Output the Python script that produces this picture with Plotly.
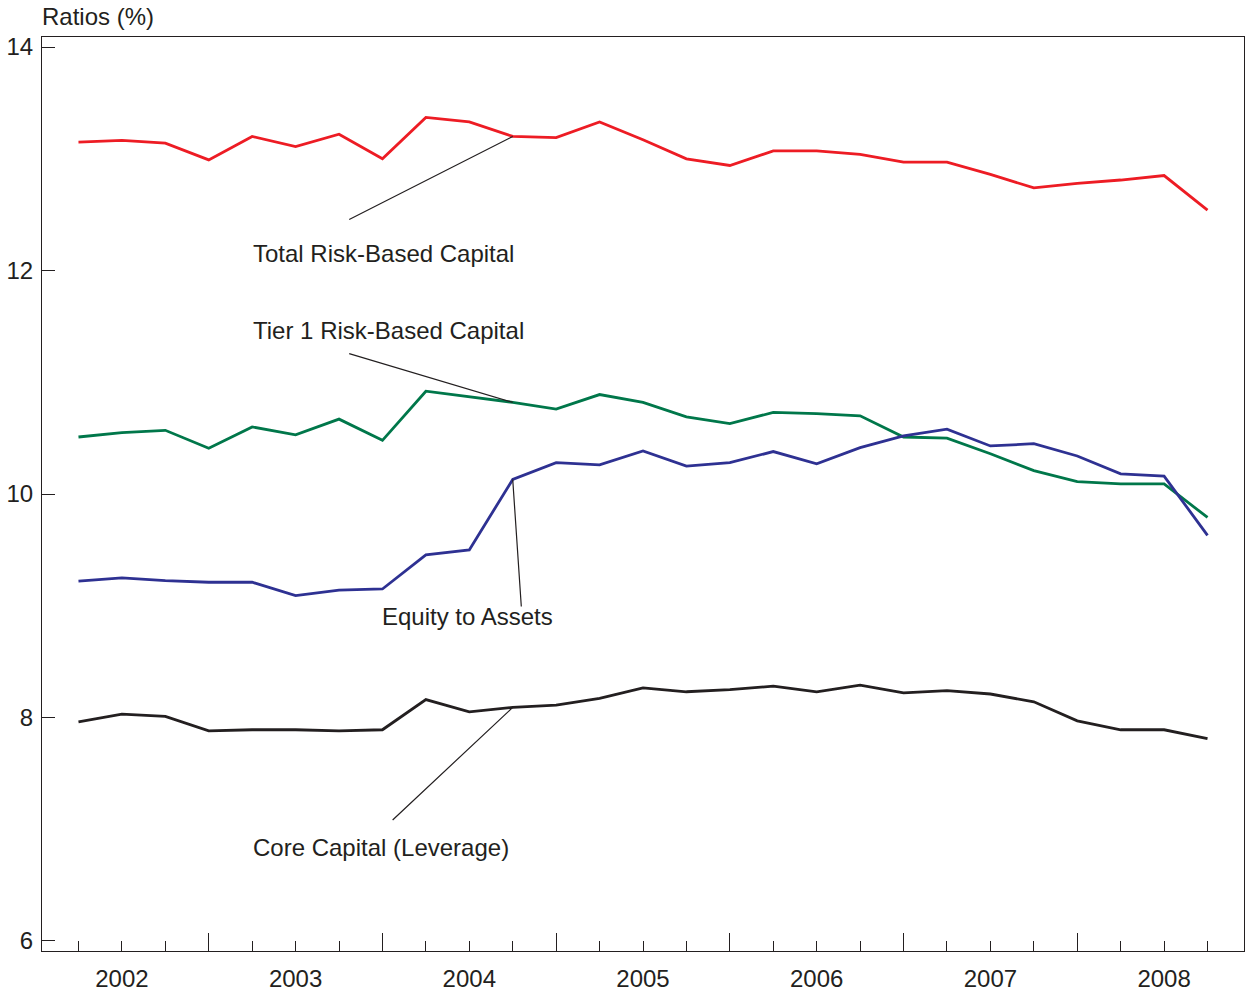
import plotly.graph_objects as go

# Quarter-end positions, 2002Q1 .. 2008Q3
quarters = [2002.25, 2002.5, 2002.75, 2003.0,
            2003.25, 2003.5, 2003.75, 2004.0,
            2004.25, 2004.5, 2004.75, 2005.0,
            2005.25, 2005.5, 2005.75, 2006.0,
            2006.25, 2006.5, 2006.75, 2007.0,
            2007.25, 2007.5, 2007.75, 2008.0,
            2008.25, 2008.5, 2008.75]

total_rbc = [13.15, 13.165, 13.14, 12.99, 13.20, 13.11, 13.22, 13.00, 13.37, 13.33,
             13.20, 13.19, 13.33, 13.17, 13.00, 12.94, 13.07, 13.07, 13.04, 12.97,
             12.97, 12.86, 12.74, 12.78, 12.81, 12.85, 12.54]
tier1_rbc = [10.51, 10.55, 10.57, 10.41, 10.60, 10.53, 10.67, 10.48, 10.92, 10.87,
             10.82, 10.76, 10.89, 10.82, 10.69, 10.63, 10.73, 10.72, 10.70, 10.51,
             10.50, 10.36, 10.21, 10.11, 10.09, 10.09, 9.79]
equity_assets = [9.22, 9.25, 9.225, 9.21, 9.21, 9.09, 9.14, 9.15, 9.455, 9.50,
                 10.13, 10.28, 10.26, 10.385, 10.25, 10.28, 10.38, 10.27, 10.415, 10.52,
                 10.58, 10.43, 10.45, 10.34, 10.18, 10.16, 9.63]
core_capital = [7.96, 8.03, 8.01, 7.88, 7.89, 7.89, 7.88, 7.89, 8.16, 8.05,
                8.09, 8.11, 8.17, 8.265, 8.23, 8.25, 8.28, 8.23, 8.29, 8.22,
                8.24, 8.21, 8.14, 7.97, 7.89, 7.89, 7.81]

year_labels = ["2002", "2003", "2004", "2005", "2006", "2007", "2008"]
year_centers = [2002.5, 2003.5, 2004.5, 2005.5, 2006.5, 2007.5, 2008.5]
year_bounds = [2003, 2004, 2005, 2006, 2007, 2008]
y_ticks = [6, 8, 10, 12, 14]

series_names = ["Total Risk-Based Capital", "Tier 1 Risk-Based Capital",
                "Equity to Assets", "Core Capital (Leverage)"]
series_values = [total_rbc, tier1_rbc, equity_assets, core_capital]
colors = ["#ed1c24", "#00774a", "#2e3192", "#231f20"]

# label placement (text anchor, leader-line tail); leaders point at 2004Q3
label_pos = [(2003.255, 12.15), (2003.255, 11.465), (2004.0, 8.90), (2003.255, 6.84)]
tail_pos = [(2003.80, 12.45), (2003.80, 11.26), (2004.80, 8.98), (2004.05, 7.07)]
point_idx = 10

ink = "#231f20"
font_family = "Liberation Sans, Arial, sans-serif"
fsize = 24

fig = go.Figure()
for name, vals, col in zip(series_names, series_values, colors):
    fig.add_trace(go.Scatter(x=quarters, y=vals, mode="lines", name=name,
                             line=dict(color=col, width=2.8), showlegend=False))
# dummy trace for the label axis
fig.add_trace(go.Scatter(x=[], y=[], xaxis="x2", showlegend=False))

annotations = []
for name, vals, (lx, ly), (tx, ty) in zip(series_names, series_values, label_pos, tail_pos):
    annotations.append(dict(x=quarters[point_idx], y=vals[point_idx], ax=tx, ay=ty,
                            xref="x", yref="y", axref="x", ayref="y", text="",
                            showarrow=True, arrowhead=0, arrowwidth=1.2, arrowcolor=ink))
    annotations.append(dict(x=lx, y=ly, xref="x", yref="y", text=name, showarrow=False,
                            xanchor="left", yanchor="middle", xshift=-2,
                            font=dict(size=fsize, color=ink, family=font_family)))
annotations.append(dict(x=0, y=1, xref="paper", yref="paper", text="Ratios (%)",
                        showarrow=False, xanchor="left", yanchor="bottom", xshift=-2, yshift=5,
                        font=dict(size=fsize, color=ink, family=font_family)))

fig.update_layout(
    width=1246, height=996,
    margin=dict(l=42, r=2, t=37, b=45),
    paper_bgcolor="white", plot_bgcolor="white",
    font=dict(family=font_family, size=fsize, color=ink),
    annotations=annotations,
    xaxis=dict(range=[2002.04, 2008.96], tickmode="array", tickvals=year_bounds,
               ticks="inside", ticklen=18, tickwidth=1.2, tickcolor=ink,
               showticklabels=False, showgrid=False, zeroline=False,
               showline=True, linecolor=ink, linewidth=1.2, mirror=True,
               minor=dict(tick0=2002, dtick=0.25, ticks="inside", ticklen=10,
                          tickwidth=1.2, tickcolor=ink, showgrid=False)),
    xaxis2=dict(overlaying="x", matches="x", anchor="y", side="bottom",
                tickmode="array", tickvals=year_centers, ticktext=year_labels,
                ticks="", showgrid=False, zeroline=False, showline=False,
                ticklabelstandoff=11,
                tickfont=dict(size=fsize, color=ink)),
    yaxis=dict(range=[5.91, 14.09], tickmode="array", tickvals=y_ticks,
               ticks="inside", ticklen=13, tickwidth=1.2, tickcolor=ink,
               showgrid=False, zeroline=False, showline=True, linecolor=ink,
               linewidth=1.2, mirror=True, ticklabelstandoff=3,
               tickfont=dict(size=fsize, color=ink)),
)

fig.write_html("out.html", config={"displayModeBar": False},
               post_script="document.body.style.margin='0';document.body.style.overflow='hidden';")
